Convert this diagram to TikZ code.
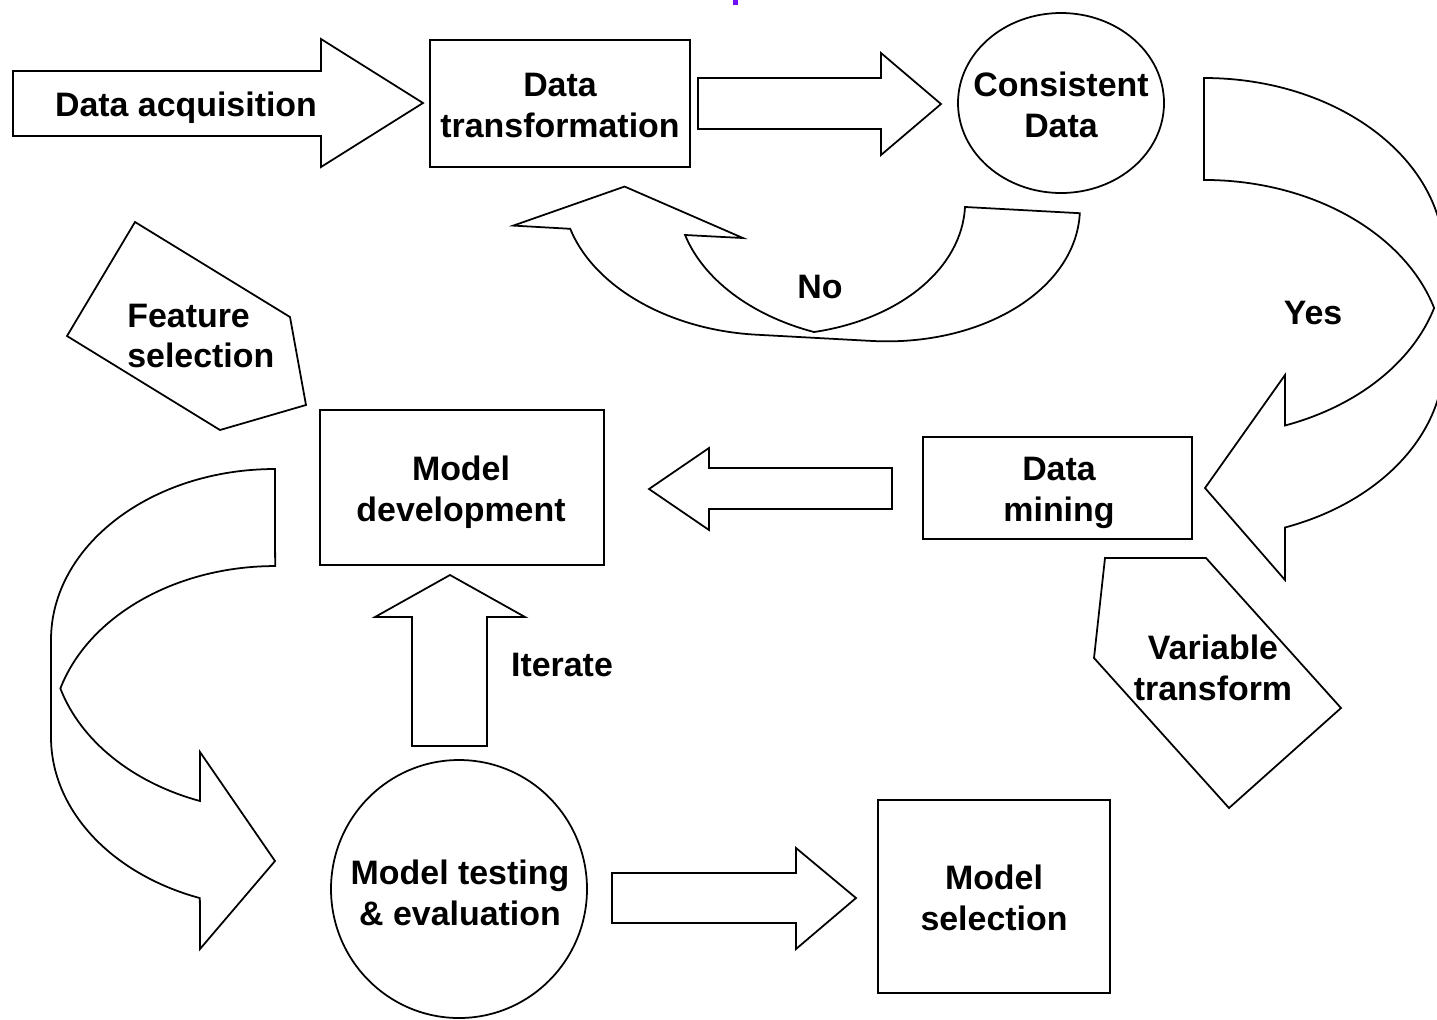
\documentclass[tikz,border=0pt]{standalone}
\usepackage{fontspec}
\setmainfont{Liberation Sans}
\usetikzlibrary{shapes.geometric}
\definecolor{markpurple}{RGB}{112,16,255}
\begin{document}
\begin{tikzpicture}[x=0.02cm,y=-0.02cm,
  shp/.style={draw=black,line width=1pt,line join=miter,fill=white},
  lbl/.style={font=\bfseries\fontsize{19.3}{23.3}\selectfont,align=center,inner sep=0pt},
  boxnode/.style={shp,rectangle,inner sep=0pt}]
\useasboundingbox (0,0) rectangle (1437,1019);
\fill[white] (0,0) rectangle (1437,1019);
\clip (0,0) rectangle (1437,1019);

% small purple mark at top
\fill[markpurple] (733,0) rectangle (738,5);

% straight block arrows
\draw[shp] (13,71) -- (321,71) -- (321,39) -- (423,103) -- (321,167) -- (321,136) -- (13,136) -- cycle;
\draw[shp] (698,78) -- (881,78) -- (881,53) -- (941,104) -- (881,155) -- (881,129) -- (698,129) -- cycle;
\draw[shp] (892,468) -- (709,468) -- (709,448) -- (649,489) -- (709,530) -- (709,509) -- (892,509) -- cycle;
\draw[shp] (412,746) -- (412,617) -- (375,617) -- (450,575) -- (525,617) -- (487,617) -- (487,746) -- cycle;
\draw[shp] (612,873) -- (796,873) -- (796,848) -- (856,898) -- (796,949) -- (796,923) -- (612,923) -- cycle;

% curved arrow "No"
\begin{scope}[rotate around={-3.1:(814,332)}]
\draw[shp] (1073,199) arc[start angle=0,end angle=90,x radius=201.5,y radius=138.8]
  -- (756.5,337.8) arc[start angle=90,end angle=161.9,x radius=201.5,y radius=138.8]
  -- (508,242) -- (617,197) -- (738,242) -- (680,242.1)
  arc[start angle=161.9,end angle=106.58,x radius=201.5,y radius=138.8]
  arc[start angle=73.42,end angle=0,x radius=201.5,y radius=138.8] -- cycle;
\end{scope}

% curved arrow "Yes"
\draw[shp] (1204,78) arc[start angle=-90,end angle=0,x radius=240,y radius=179]
  -- (1444,359) arc[start angle=0,end angle=70.3,x radius=240,y radius=179]
  -- (1285,580) -- (1205,488) -- (1285,375) -- (1285,425.5)
  arc[start angle=70.3,end angle=16.55,x radius=240,y radius=179]
  arc[start angle=-16.55,end angle=-90,x radius=240,y radius=179] -- cycle;

% curved arrow on the left
\draw[shp] (275,469) arc[start angle=-90,end angle=-180,x radius=224,y radius=171]
  -- (51,737) arc[start angle=180,end angle=109.6,x radius=224,y radius=171]
  -- (200,949) -- (275,861) -- (200,752) -- (200,801)
  arc[start angle=109.6,end angle=163.5,x radius=224,y radius=171]
  arc[start angle=196.5,end angle=270,x radius=224,y radius=171] -- cycle;

% pentagons
\draw[shp] (135,222) -- (290,317) -- (306,405) -- (220,430) -- (67,336) -- cycle;
\draw[shp] (1105,558) -- (1206,558) -- (1341,708) -- (1229,808) -- (1094,658) -- cycle;

% ellipses
\draw[shp] (1061,103) ellipse [x radius=103,y radius=90];
\draw[shp] (459,889) ellipse [x radius=128,y radius=129];

% boxes
\node[boxnode,minimum width=5.2cm,minimum height=2.54cm] (dt) at (560,103.5) {};
\node[boxnode,minimum width=5.38cm,minimum height=2.04cm] (dm) at (1057.5,488) {};
\node[boxnode,minimum width=5.68cm,minimum height=3.1cm] (md) at (462,487.5) {};
\node[boxnode,minimum width=4.64cm,minimum height=3.86cm] (ms) at (994,896.5) {};

% text labels
\node[lbl] (dtt) at (560,105.5) {Data\\transformation};
\node[lbl] (dmt) at (1059,492.5) {Data\\mining};
\node[lbl] (mdt) at (461,492.5) {Model\\development};
\node[lbl] (mst) at (994,897.5) {Model\\selection};
\node[lbl] (da) at (186,108) {Data acquisition};
\node[lbl] (cd) at (1061,105) {Consistent\\Data};
\node[lbl] (no) at (820,287) {No};
\node[lbl] (yes) at (1313,313) {Yes};
\node[lbl,align=left,anchor=west] (fs) at (127,336) {Feature\\selection};
\node[lbl] (vt) at (1213,668) {Variable\\transform};
\node[lbl] (it) at (562,665) {Iterate};
\node[lbl] (mt) at (460,893) {Model testing\\\& evaluation};
\end{tikzpicture}
\end{document}
